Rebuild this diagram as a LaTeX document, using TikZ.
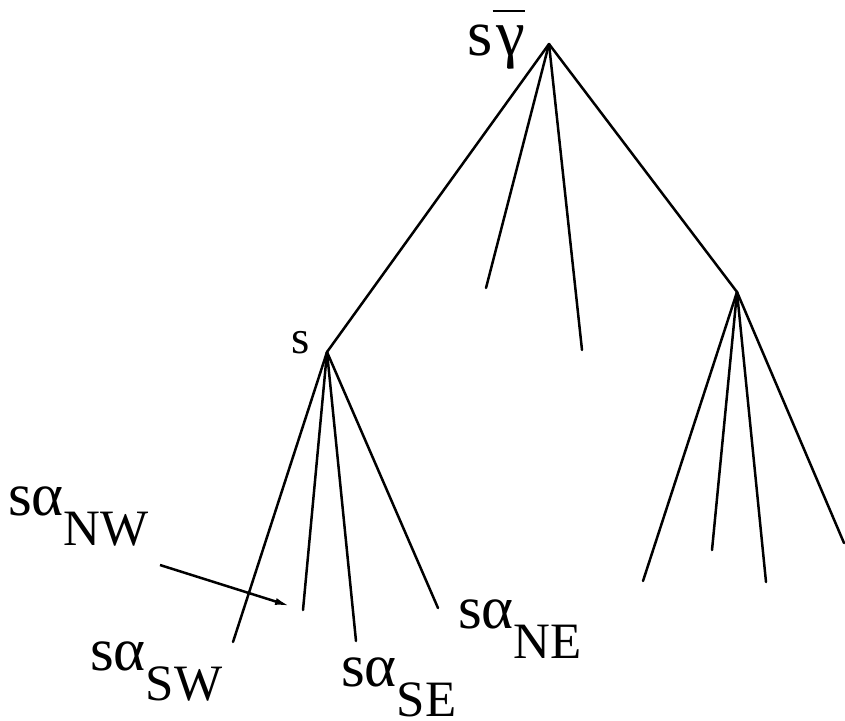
\documentclass[tikz,border=0pt]{standalone}
\usepackage{fontspec}
\setmainfont{Liberation Serif}
\usetikzlibrary{arrows.meta}
\newcommand\lblsub[1]{\raisebox{-30pt}{\fontsize{51}{51}\selectfont #1}}
\newcommand\gbar{\leavevmode\vbox{\hrule height 2.5pt\kern 13pt\hbox{\kern4pt γ}}}
\begin{document}
\begin{tikzpicture}[x=1pt,y=-1pt,
  edge/.style={line width=2.5pt, line cap=round, line join=round},
  lbl/.style={inner sep=0pt, anchor=base west, font=\fontsize{61}{61}\selectfont},
  arr/.style={line width=2.5pt, -{Latex[length=15pt,width=7pt]}}]
\useasboundingbox (0,0) rectangle (845,720);
% tree vertices
\coordinate (root) at (549,44);
\coordinate (s) at (327,352);
\coordinate (r) at (737,292);
\coordinate (m1) at (486,288);
\coordinate (m2) at (582,350);
\coordinate (r1) at (643,581);
\coordinate (r2) at (712,550);
\coordinate (r3) at (766,582);
\coordinate (r4) at (844,543);
\coordinate (sw) at (233,642);
\coordinate (nw) at (303,610);
\coordinate (se) at (356,641);
\coordinate (ne) at (438,608);
\coordinate (arrA) at (160,565);
\coordinate (arrB) at (290,606);
% edges
\draw[edge] (root) -- (s);
\draw[edge] (root) -- (m1);
\draw[edge] (root) -- (m2);
\draw[edge] (root) -- (r);
\draw[edge] (r) -- (r1);
\draw[edge] (r) -- (r2);
\draw[edge] (r) -- (r3);
\draw[edge] (r) -- (r4);
\draw[edge] (s) -- (sw);
\draw[edge] (s) -- (nw);
\draw[edge] (s) -- (se);
\draw[edge] (s) -- (ne);
\draw[arr] (arrA) -- (arrB);
% labels
\node[lbl, font=\fontsize{65}{65}\selectfont] (lroot) at (467,55) {s\gbar};
\node[lbl, font=\fontsize{47}{47}\selectfont] (ls) at (291,353) {s};
\node[lbl] (lnw) at (8,515) {sα\lblsub{NW}};
\node[lbl] (lsw) at (90,670) {sα\lblsub{SW}};
\node[lbl] (lse) at (341,686) {sα\lblsub{SE}};
\node[lbl] (lne) at (458,628) {sα\lblsub{NE}};
\end{tikzpicture}
\end{document}
